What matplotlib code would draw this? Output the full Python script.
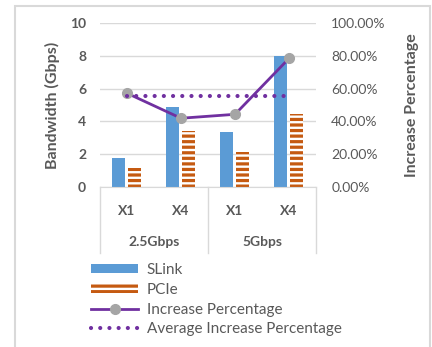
import matplotlib
matplotlib.use("Agg")
import matplotlib.pyplot as plt
from matplotlib.lines import Line2D
from matplotlib.patches import Patch, Rectangle
from matplotlib.ticker import PercentFormatter

# data
groups = ["2.5Gbps", "5Gbps"]
lanes = ["X1", "X4", "X1", "X4"]
slink = [1.75, 4.85, 3.32, 8.0]
pcie = [1.12, 3.41, 2.15, 4.47]
increase = [0.572, 0.419, 0.443, 0.785]
avg_increase = sum(increase) / len(increase)

blue = "#5B9BD5"
orange = "#C55A11"
purple = "#7030A0"
grey = "#A5A5A5"
txt = "#595959"
grid = "#D9D9D9"

plt.rcParams["font.family"] = ["Lato", "DejaVu Sans"]
plt.rcParams["hatch.linewidth"] = 2.3
plt.rcParams["hatch.color"] = orange

fig = plt.figure(figsize=(4.32, 3.47), dpi=100)
ax = fig.add_axes([100 / 432, 1 - 186.7 / 347, 216 / 432, 163.4 / 347])

x = list(range(len(lanes)))
w = 0.24
ax.bar([i - 0.155 for i in x], slink, width=w, color=blue, zorder=2)
ax.bar([i + 0.135 for i in x], pcie, width=w, facecolor="white", edgecolor=orange,
       hatch="---", linewidth=0, zorder=2)

ax.set_xlim(-0.5, 3.5)
ax.set_ylim(0, 10)
ax.set_yticks(range(0, 11, 2))
ax.yaxis.grid(True, color=grid, linewidth=1)
ax.set_axisbelow(True)
for s in ["top", "right", "left"]:
    ax.spines[s].set_visible(False)
ax.spines["bottom"].set_color(grid)
ax.tick_params(axis="both", length=0, colors=txt, labelsize=10)
ax.tick_params(axis="y", pad=10)
for lab in ax.get_yticklabels():
    lab.set_fontweight("bold")
ax.set_xticks(x)
ax.set_xticklabels(lanes, fontweight="bold")
ax.tick_params(axis="x", pad=13)
ax.set_ylabel("Bandwidth (Gbps)", color=txt, fontsize=11.5, fontweight="bold", labelpad=7)

# group labels and separators under the axis
for gi, g in enumerate(groups):
    ax.text(gi * 2 + 0.5, -0.34, g, transform=ax.get_xaxis_transform(),
            ha="center", va="center", color=txt, fontsize=10, fontweight="bold")
for xs in [-0.5, 1.5, 3.5]:
    ax.add_line(Line2D([xs, xs], [0, -0.405], transform=ax.get_xaxis_transform(),
                       color=grid, linewidth=1, clip_on=False))

ax2 = ax.twinx()
ax2.plot(x, increase, color=purple, linewidth=2, marker="o", markersize=7,
         markerfacecolor=grey, markeredgecolor=grey, zorder=3)
ax2.plot(x, [avg_increase] * len(x), color=purple, linewidth=3,
         linestyle=(0, (0.01, 2.2)), dash_capstyle="round", zorder=3)
ax2.set_ylim(0, 1)
ax2.set_yticks([0, 0.2, 0.4, 0.6, 0.8, 1.0])
ax2.yaxis.set_major_formatter(PercentFormatter(1.0, decimals=2))
for s in ["top", "right", "left", "bottom"]:
    ax2.spines[s].set_visible(False)
ax2.tick_params(axis="y", length=0, colors=txt, labelsize=10, pad=11)
ax2.set_ylabel("Increase Percentage", color=txt, fontsize=11.5, fontweight="bold", labelpad=14)

handles = [
    Patch(facecolor=blue, edgecolor="none"),
    Patch(facecolor="white", edgecolor=orange, hatch="---", linewidth=0),
    Line2D([], [], color=purple, linewidth=2, marker="o", markersize=7,
           markerfacecolor=grey, markeredgecolor=grey),
    Line2D([], [], color=purple, linewidth=3, linestyle=(0, (0.01, 2.2)),
           dash_capstyle="round"),
]
labels = ["SLink", "PCIe", "Increase Percentage", "Average Increase Percentage"]
leg = fig.legend(handles, labels, loc="upper left", bbox_to_anchor=(91 / 432, 1 - 263 / 347),
                 frameon=False, fontsize=11, handlelength=3.1, handleheight=0.55,
                 labelspacing=0.38, handletextpad=0.55, borderaxespad=0, borderpad=0)
for t in leg.get_texts():
    t.set_color(txt)

# chart frame
fig.add_artist(Rectangle((14.5 / 432, -0.05), (430 - 14.5) / 432, 1.05 - 5.5 / 347,
                         transform=fig.transFigure, fill=False, edgecolor=grid, linewidth=1.5))

fig.savefig("out.png", dpi=100)
